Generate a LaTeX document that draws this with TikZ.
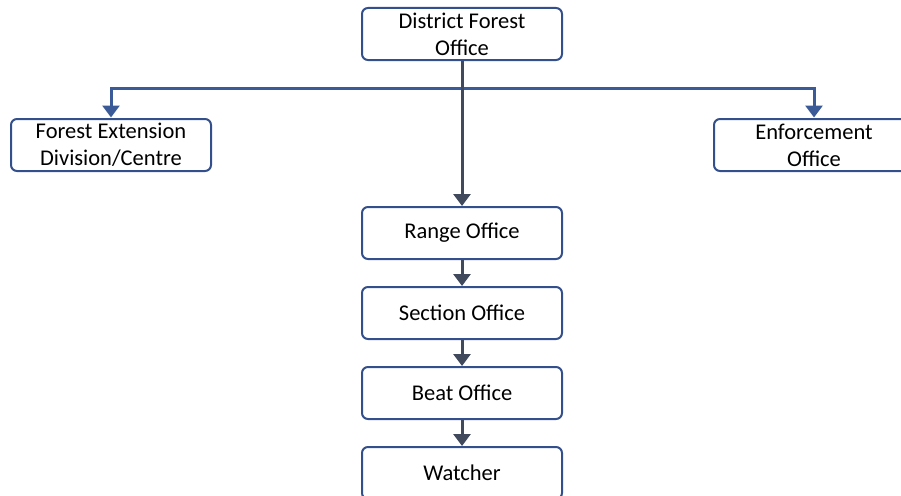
\documentclass[tikz,border=0pt]{standalone}
\usepackage{fontspec}
\setmainfont{Carlito}
\usetikzlibrary{arrows.meta}
\definecolor{boxline}{HTML}{34508C}
\definecolor{hline}{HTML}{3A5A98}
\definecolor{vline}{HTML}{404A5C}
\tikzset{
  orgbox/.style={draw=boxline, line width=2pt, rounded corners=6pt, fill=white,
    minimum width=200pt, minimum height=52pt, inner sep=0pt, align=center,
    font=\fontsize{22.5}{27}\selectfont, text=black},
  varr/.style={draw=vline, line width=3pt, -{Triangle[width=17pt,length=12pt]}},
  harr/.style={draw=hline, line width=3pt, -{Triangle[width=17pt,length=12pt]}, color=hline},
}
\begin{document}
\begin{tikzpicture}[x=1pt,y=-1pt]
\useasboundingbox (0,0) rectangle (901,495);
\begin{scope}
\clip (0,0) rectangle (901,495);
\node[orgbox] (dfo) at (462,34) {District Forest\\Office};
\node[orgbox] (fe) at (111,145) {Forest Extension\\Division/Centre};
\node[orgbox] (enf) at (814,145) {Enforcement\\Office};
\node[orgbox] (range) at (462,233) {Range Office};
\node[orgbox] (section) at (462,313) {Section Office};
\node[orgbox] (beat) at (462,393) {Beat Office};
\node[orgbox] (watcher) at (462,473) {Watcher};
\coordinate (j) at (462,88);
\draw[harr, shorten >=0.5pt] (j) -| (fe.north);
\draw[harr, shorten >=0.5pt] (j) -| (enf.north);
\draw[varr, color=vline] (dfo.south) -- (range.north);
\draw[varr, color=vline] (range.south) -- (section.north);
\draw[varr, color=vline] (section.south) -- (beat.north);
\draw[varr, color=vline] (beat.south) -- (watcher.north);
\end{scope}
\end{tikzpicture}
\end{document}
